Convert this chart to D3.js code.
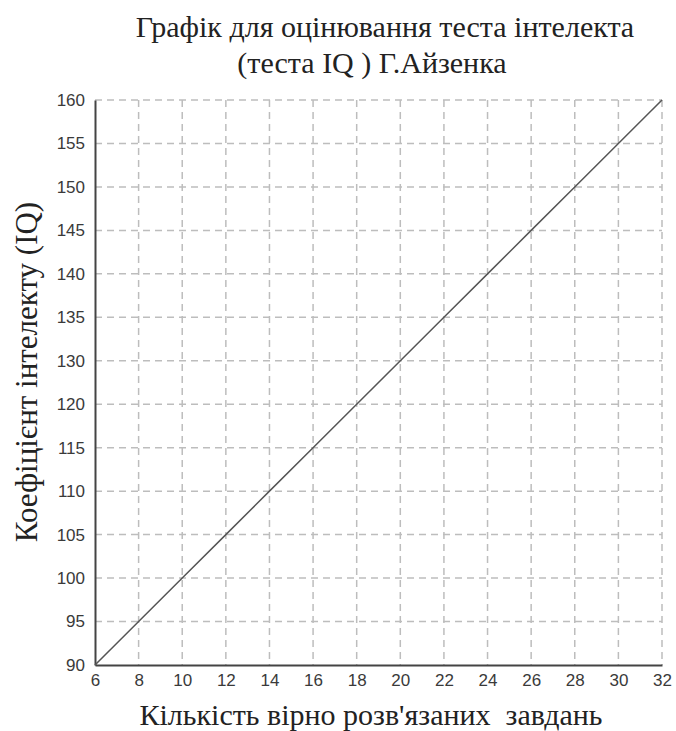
<!DOCTYPE html>
<html>
<head>
<meta charset="utf-8">
<script src="https://cdn.jsdelivr.net/npm/d3@7/dist/d3.min.js"></script>
<style>
  html, body { margin: 0; padding: 0; background: #fff; }
  svg { display: block; }
</style>
</head>
<body>
<svg id="chart" width="676" height="731"></svg>
<script>
// Number of correctly solved tasks (x) and the matching IQ score (y)
const solvedTasks = [6, 8, 10, 12, 14, 16, 18, 20, 22, 24, 26, 28, 30, 32];
const iqScores    = [90, 95, 100, 105, 110, 115, 120, 130, 135, 140, 145, 150, 155, 160];

// Axis tick labels
const xTicks = [6, 8, 10, 12, 14, 16, 18, 20, 22, 24, 26, 28, 30, 32];
const yTicks = [90, 95, 100, 105, 110, 115, 120, 130, 135, 140, 145, 150, 155, 160];

const titleLines = ["Графік для оцінювання теста інтелекта", "(теста IQ ) Г.Айзенка"];
const xTitle = "Кількість вірно розв'язаних  завдань";
const yTitle = "Коефіцієнт інтелекту (IQ)";

const svg = d3.select("#chart");
const plot = { left: 95, right: 662, top: 100, bottom: 665 };

const x = d3.scaleLinear()
  .domain([d3.min(xTicks), d3.max(xTicks)])
  .range([plot.left, plot.right]);

// The IQ axis places its labelled values at equal steps
const yStep = (plot.bottom - plot.top) / (yTicks.length - 1);
const y = d3.scaleLinear()
  .domain(yTicks)
  .range(yTicks.map((_, i) => plot.bottom - i * yStep));

const gridColor = "#bdbdbd";
const textColor = "#3a3a3a";

// Dashed grid
const grid = svg.append("g");
grid.selectAll("line.v")
  .data(xTicks.slice(1))
  .join("line")
  .attr("class", "v")
  .attr("x1", d => x(d)).attr("x2", d => x(d))
  .attr("y1", plot.top).attr("y2", plot.bottom)
  .attr("stroke", gridColor).attr("stroke-width", 1.5)
  .attr("stroke-dasharray", "7,5");
grid.selectAll("line.h")
  .data(yTicks.slice(1))
  .join("line")
  .attr("class", "h")
  .attr("x1", plot.left).attr("x2", plot.right)
  .attr("y1", d => y(d)).attr("y2", d => y(d))
  .attr("stroke", gridColor).attr("stroke-width", 1.5)
  .attr("stroke-dasharray", "7,5");

// Axes
const xAxis = d3.axisBottom(x).tickValues(xTicks).tickSize(0).tickPadding(10).tickFormat(d3.format("d"));
const yAxis = d3.axisLeft(y).tickValues(yTicks).tickSize(0).tickPadding(10).tickFormat(d3.format("d"));

const gx = svg.append("g").attr("transform", `translate(0,${plot.bottom})`).call(xAxis);
const gy = svg.append("g").attr("transform", `translate(${plot.left},0)`).call(yAxis);

[gx, gy].forEach(g => {
  g.select(".domain").attr("stroke", "#444").attr("stroke-width", 2);
  g.selectAll("text")
    .attr("fill", textColor)
    .style("font-family", "'Liberation Sans', Arial, sans-serif")
    .style("font-size", "17px");
});
gx.selectAll("text").attr("dy", "0.65em");

// Score line
const line = d3.line().x((d, i) => x(solvedTasks[i])).y(d => y(d));
svg.append("path")
  .datum(iqScores)
  .attr("d", line)
  .attr("fill", "none")
  .attr("stroke", "#555")
  .attr("stroke-width", 1.5);

// Titles
const serif = "'Liberation Serif', 'Times New Roman', serif";
svg.append("g").selectAll("text")
  .data(titleLines)
  .join("text")
  .attr("x", (d, i) => i === 0 ? 385 : 372)
  .attr("y", (d, i) => 37 + i * 36)
  .attr("text-anchor", "middle")
  .attr("fill", "#222")
  .style("font-family", serif)
  .style("font-size", "30px")
  .text(d => d);

svg.append("text")
  .attr("x", 371)
  .attr("y", 725)
  .attr("text-anchor", "middle")
  .attr("fill", "#222")
  .style("font-family", serif)
  .style("font-size", "30px")
  .style("white-space", "pre")
  .attr("xml:space", "preserve")
  .text(xTitle);

svg.append("text")
  .attr("transform", `translate(37,372) rotate(-90)`)
  .attr("text-anchor", "middle")
  .attr("fill", "#222")
  .style("font-family", serif)
  .style("font-size", "31px")
  .text(yTitle);
</script>
</body>
</html>
